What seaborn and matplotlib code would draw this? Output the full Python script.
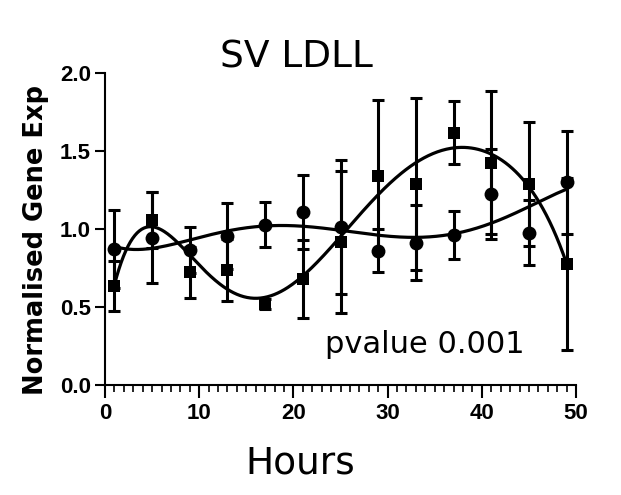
import numpy as np
import pandas as pd
import matplotlib
matplotlib.use("Agg")
import matplotlib.pyplot as plt
import seaborn as sns
from matplotlib.ticker import MultipleLocator, FormatStrFormatter

# Sampling times (hours)
hours = [1, 5, 9, 13, 17, 21, 25, 29, 33, 37, 41, 45, 49]

# Series drawn with square markers
square_mean = [0.635, 1.058, 0.722, 0.737, 0.519, 0.679, 0.915, 1.340, 1.288, 1.617, 1.425, 1.288, 0.774]
square_err = [0.16, 0.18, 0.165, 0.20, 0.03, 0.25, 0.457, 0.487, 0.55, 0.20, 0.46, 0.396, 0.55]

# Series drawn with circle markers
circle_mean = [0.870, 0.944, 0.865, 0.955, 1.026, 1.107, 1.011, 0.861, 0.912, 0.962, 1.224, 0.976, 1.297]
circle_err = [0.25, 0.29, 0.146, 0.21, 0.145, 0.235, 0.427, 0.137, 0.24, 0.155, 0.29, 0.207, 0.331]

title = "SV LDLL"
x_label = "Hours"
y_label = "Normalised Gene Exp"
note = "pvalue 0.001"

sns.set_style("ticks")
plt.rcParams["font.family"] = ["DejaVu Sans"]
plt.rcParams["text.color"] = "black"
plt.rcParams["xtick.color"] = "black"
plt.rcParams["ytick.color"] = "black"

fig = plt.figure(figsize=(6.21, 4.95), dpi=100)
ax = fig.add_axes([0.1691, 0.2222, 0.7585, 0.6309])

t = np.asarray(hours, dtype=float)

# Smooth polynomial fits through each series
def fitted(y, deg):
    coef = np.polyfit(t, np.asarray(y), deg)
    tt = np.linspace(t.min(), t.max(), 400)
    return pd.DataFrame({"hours": tt, "value": np.polyval(coef, tt)})

sq_fit = fitted(square_mean, 6)
ci_fit = fitted(circle_mean, 5)

sns.lineplot(data=sq_fit, x="hours", y="value", color="black", lw=2.3, ax=ax)
sns.lineplot(data=ci_fit, x="hours", y="value", color="black", lw=2.3, ax=ax)

ax.errorbar(t, circle_mean, yerr=circle_err, fmt="none", ecolor="black",
            elinewidth=2.2, capsize=4.3, capthick=2.2, zorder=3)
ax.errorbar(t, square_mean, yerr=square_err, fmt="none", ecolor="black",
            elinewidth=2.2, capsize=4.3, capthick=2.2, zorder=3)

pts = pd.DataFrame({"hours": hours, "square": square_mean, "circle": circle_mean})
sns.scatterplot(data=pts, x="hours", y="circle", marker="o", s=100,
                color="black", edgecolor="black", linewidth=0, ax=ax, zorder=4)
sns.scatterplot(data=pts, x="hours", y="square", marker="s", s=85,
                color="black", edgecolor="black", linewidth=0, ax=ax, zorder=4)

ax.set_xlim(0, 50)
ax.set_ylim(0, 2.0)
ax.xaxis.set_major_locator(MultipleLocator(10))
ax.xaxis.set_minor_locator(MultipleLocator(1))
ax.yaxis.set_major_locator(MultipleLocator(0.5))
ax.yaxis.set_major_formatter(FormatStrFormatter("%.1f"))

sns.despine(ax=ax)
for side in ("left", "bottom"):
    ax.spines[side].set_linewidth(1.5)
    ax.spines[side].set_color("black")

ax.tick_params(axis="x", which="major", length=9, width=1.5, pad=4, colors="black")
ax.tick_params(axis="x", which="minor", length=5, width=1.2, colors="black")
ax.tick_params(axis="y", which="major", length=7, width=1.5, pad=3, colors="black")
for lab in ax.get_xticklabels() + ax.get_yticklabels():
    lab.set_family("Liberation Sans")
    lab.set_fontweight("bold")
    lab.set_fontsize(16)
    lab.set_color("black")

ax.set_xlabel("")
ax.set_ylabel("")
fig.text(300 / 621, 1 - 473 / 495, x_label, fontsize=27, ha="center",
         va="baseline", color="black")
fig.text(36 / 621, 1 - 240 / 495, y_label, fontsize=18.5, fontweight="bold",
         rotation=90, ha="center", va="center", color="black")
fig.text(296 / 621, 1 - 67.5 / 495, title, fontsize=27, ha="center",
         va="baseline", color="black")
ax.text(23.3, 0.205, note, fontsize=22, ha="left", va="baseline", color="black")

fig.savefig("out.png", dpi=100)
